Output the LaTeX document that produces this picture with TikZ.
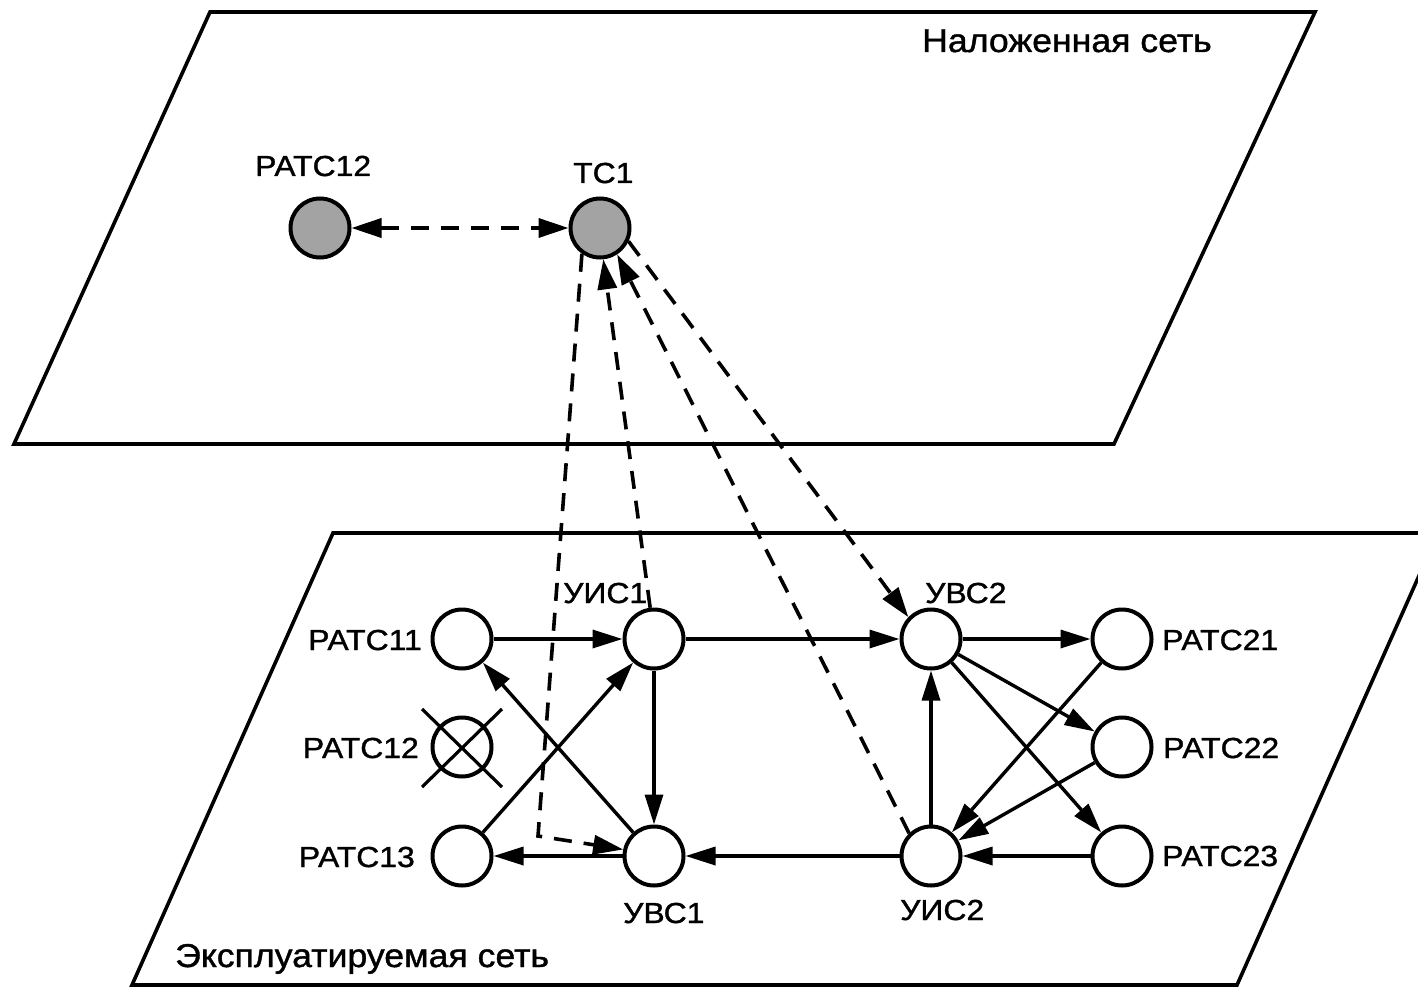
\documentclass[tikz,border=0pt]{standalone}
\usepackage{fontspec}
\setmainfont{Liberation Sans}
\newfontfamily\lblfont{Liberation Sans}[FakeStretch=1.1,RawFeature={embolden=1.2}]
\newfontfamily\bigfont{Liberation Sans}[FakeStretch=1.08,RawFeature={embolden=1.2}]
\usetikzlibrary{arrows.meta,calc}
\begin{document}
\begin{tikzpicture}[x=1pt,y=-1pt,
  nd/.style={circle,draw,line width=4pt,minimum size=59pt,inner sep=0pt,fill=white},
  gnd/.style={nd,fill=black!36},
  lbl/.style={font=\lblfont\fontsize{29}{31}\selectfont,inner sep=0pt},
  big/.style={font=\bigfont\fontsize{33}{36}\selectfont,inner sep=0pt},
  plane/.style={line width=3.6pt,line join=miter},
  ar/.style={line width=3.4pt,-{Triangle[length=30pt,width=18pt]}},
  dln/.style={line width=3.6pt,dash pattern=on 18pt off 12pt},
  dar/.style={dln,-{Triangle[length=30pt,width=19pt]}},
  dbar/.style={dln,{Triangle[length=30pt,width=19pt]}-{Triangle[length=30pt,width=19pt]}},
]
\useasboundingbox (0,0) rectangle (1418,987);
\clip (0,0) rectangle (1418,987);
\fill[white] (0,0) rectangle (1418,987);

% planes
\draw[plane] (210,12) -- (1315,12) -- (1114,444) -- (14,444) -- cycle;
\draw[plane] (333,533) -- (1438,533) -- (1237,985) -- (132,985) -- cycle;
\node[big,anchor=base west] (Lover) at (922,52) {Наложенная сеть};
\node[big,anchor=base west] (Lbase) at (175,967) {Эксплуатируемая сеть};

% top nodes
\node[gnd] (R12t) at (320,228) {};
\node[gnd] (TC1) at (600,228) {};
\node[lbl,anchor=base west] (lR12t) at (255,176) {РАТС12};
\node[lbl,anchor=base west] (lTC1) at (573,183) {ТС1};

% bottom nodes
\node[nd] (R11) at (462,639) {};
\node[nd] (R12) at (462,747) {};
\node[nd] (R13) at (462,856) {};
\node[nd] (UIS1) at (654,639) {};
\node[nd] (UVS1) at (654,856) {};
\node[nd] (UVS2) at (931,639) {};
\node[nd] (UIS2) at (931,856) {};
\node[nd] (R21) at (1122,639) {};
\node[nd] (R22) at (1122,747) {};
\node[nd] (R23) at (1122,856) {};

% crossed-out node
\draw[line width=3.2pt] ($(R12.center)+(-40,-38)$) -- ($(R12.center)+(40,40)$);
\draw[line width=3.2pt] ($(R12.center)+(-40,40)$) -- ($(R12.center)+(40,-38)$);

% labels
\node[lbl,anchor=base east] (lR11) at (422,650) {РАТС11};
\node[lbl,anchor=base east] (lR12) at (419,758) {РАТС12};
\node[lbl,anchor=base east] (lR13) at (415,867) {РАТС13};
\node[lbl,anchor=base west] (lUIS1) at (563,603) {УИС1};
\node[lbl,anchor=base west] (lUVS1) at (623,923) {УВС1};
\node[lbl,anchor=base west] (lUVS2) at (925,603) {УВС2};
\node[lbl,anchor=base west] (lUIS2) at (900,920) {УИС2};
\node[lbl,anchor=base west] (lR21) at (1162,650) {РАТС21};
\node[lbl,anchor=base west] (lR22) at (1163,758) {РАТС22};
\node[lbl,anchor=base west] (lR23) at (1162,866) {РАТС23};

% solid connections
\draw[ar] (R11) -- (UIS1);
\draw[ar] (UIS1) -- (UVS2);
\draw[ar] (UVS2) -- (R21);
\draw[ar] (UIS1) -- (UVS1);
\draw[ar] (R13) -- (UIS1);
\draw[ar] (UVS1) -- (R11);
\draw[ar] (UVS1) -- (R13);
\draw[ar] (UIS2) -- (UVS1);
\draw[ar] (UIS2) -- (UVS2);
\draw[ar] (UVS2) -- (R22);
\draw[ar] (UVS2) -- (R23);
\draw[ar] (R21) -- (UIS2);
\draw[ar] (R22) -- (UIS2);
\draw[ar] (R23) -- (UIS2);

% dashed connections
\draw[dbar] (R12t) -- (TC1);
\coordinate (corner) at (538,836);
\draw[dar] (TC1.-125) -- (corner) -- (UVS1.168);
\draw[dar] (UIS1.97) -- (TC1.-84);
\draw[dar] (UIS2.134) -- (TC1.-57);
\draw[dar] (TC1.-25) -- (UVS2.136);
\end{tikzpicture}
\end{document}
